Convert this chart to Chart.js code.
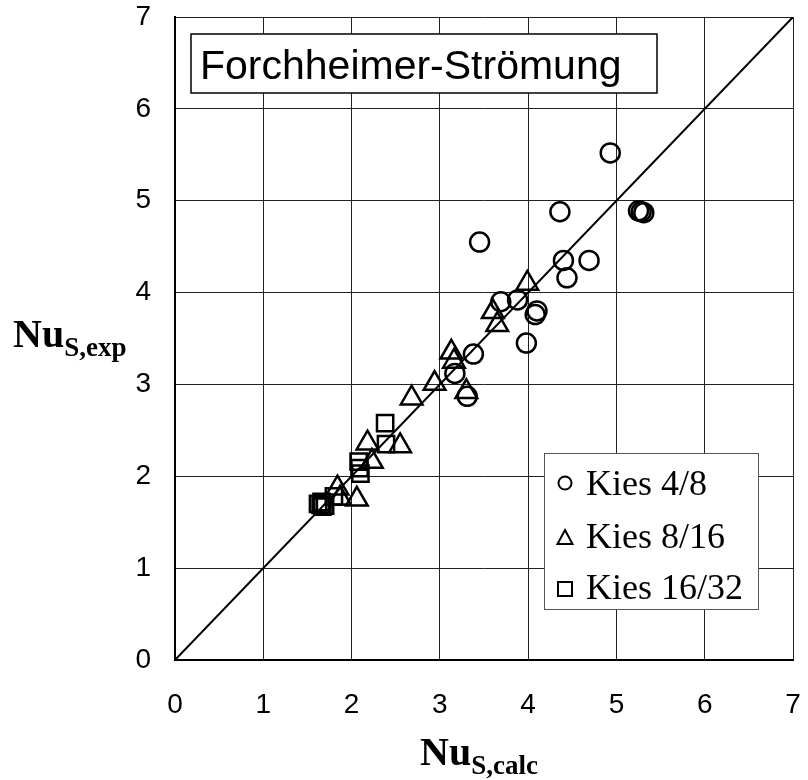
<!DOCTYPE html>
<html>
<head>
<meta charset="utf-8">
<script src="https://cdn.jsdelivr.net/npm/chart.js@4.4.1/dist/chart.umd.min.js"></script>
<style>
  html, body { margin: 0; padding: 0; background: #fff; }
  canvas { display: block; }
</style>
</head>
<body>
<canvas id="chart" width="808" height="780"></canvas>
<script>
const kies48X = [4.93, 4.36, 5.25, 5.28, 5.31, 3.45, 4.40, 4.69, 4.44, 4.10, 4.08, 3.69, 3.88, 3.98, 3.38, 3.17, 3.31];
const kies48Y = [5.52, 4.88, 4.89, 4.88, 4.87, 4.55, 4.35, 4.35, 4.16, 3.80, 3.76, 3.90, 3.92, 3.45, 3.33, 3.12, 2.87];

const kies816X = [3.99, 3.60, 3.65, 3.13, 3.16, 3.30, 2.94, 2.68, 2.18, 2.55, 2.23, 1.84, 1.87, 2.06];
const kies816Y = [4.10, 3.79, 3.65, 3.35, 3.25, 2.92, 3.01, 2.85, 2.36, 2.33, 2.16, 1.87, 1.76, 1.75];

const kies1632X = [2.38, 2.39, 2.08, 2.09, 2.10, 1.80, 1.65, 1.67, 1.62, 1.70, 1.66];
const kies1632Y = [2.58, 2.35, 2.16, 2.09, 2.03, 1.78, 1.69, 1.67, 1.70, 1.68, 1.72];

const lineX = [0, 7];
const lineY = [0, 7];

const tickValues = [0, 1, 2, 3, 4, 5, 6, 7];
const legendLabels = ["Kies 4/8", "Kies 8/16", "Kies 16/32"];
const titleText = "Forchheimer-Strömung";

const toPoints = (xs, ys) => xs.map((x, i) => ({ x: x, y: ys[i] }));

// Titelkasten, Legende und Achsentitel (mit Index) selbst zeichnen
const extras = {
  id: "extras",
  afterDraw(chart) {
    const ctx = chart.ctx;
    ctx.save();

    // Titelkasten
    ctx.fillStyle = "#fff";
    ctx.fillRect(191, 34, 466, 59);
    ctx.strokeStyle = "#000";
    ctx.lineWidth = 1.5;
    ctx.strokeRect(191, 34, 466, 59);
    ctx.fillStyle = "#000";
    ctx.font = "41px 'Liberation Sans', Arial, sans-serif";
    ctx.textBaseline = "alphabetic";
    ctx.textAlign = "left";
    ctx.fillText(titleText, 200, 79);

    // Legende
    ctx.fillStyle = "#fff";
    ctx.fillRect(544, 453, 214, 156);
    ctx.strokeStyle = "#555";
    ctx.lineWidth = 1;
    ctx.strokeRect(544.5, 453.5, 214, 156);

    ctx.strokeStyle = "#000";
    ctx.lineWidth = 2;
    ctx.beginPath();
    ctx.arc(565, 483, 6.5, 0, Math.PI * 2);
    ctx.stroke();

    ctx.beginPath();
    ctx.moveTo(565, 530);
    ctx.lineTo(572.5, 544);
    ctx.lineTo(557.5, 544);
    ctx.closePath();
    ctx.stroke();

    ctx.strokeRect(558, 582, 14, 14);

    ctx.fillStyle = "#000";
    ctx.font = "36px 'Liberation Serif', 'Times New Roman', serif";
    const rows = [495, 548, 599];
    legendLabels.forEach((t, i) => ctx.fillText(t, 586, rows[i]));

    // Achsentitel
    const drawSub = (main, sub, x, y) => {
      ctx.font = "bold 40px 'Liberation Serif', 'Times New Roman', serif";
      ctx.fillText(main, x, y);
      const w = ctx.measureText(main).width;
      ctx.font = "bold 27px 'Liberation Serif', 'Times New Roman', serif";
      ctx.fillText(sub, x + w, y + 9);
    };
    drawSub("Nu", "S,calc", 420, 765);
    drawSub("Nu", "S,exp", 13, 347);

    ctx.restore();
  }
};

const baseScale = {
  type: "linear",
  min: 0,
  max: 7,
  afterBuildTicks(scale) {
    scale.ticks = tickValues.map(v => ({ value: v }));
  },
  grid: { color: "#222", lineWidth: 1, drawTicks: false },
  border: { color: "#000", width: 2 },
  ticks: {
    color: "#000",
    font: { family: "'Liberation Sans', Arial, sans-serif", size: 28 }
  }
};

new Chart(document.getElementById("chart"), {
  type: "scatter",
  data: {
    datasets: [
      {
        label: legendLabels[0],
        data: toPoints(kies48X, kies48Y),
        pointStyle: "circle",
        pointRadius: 9.5,
        pointBorderWidth: 2.5,
        pointBorderColor: "#000",
        pointBackgroundColor: "rgba(0,0,0,0)"
      },
      {
        label: legendLabels[1],
        data: toPoints(kies816X, kies816Y),
        pointStyle: "triangle",
        pointRadius: 12.5,
        pointBorderWidth: 2.5,
        pointBorderColor: "#000",
        pointBackgroundColor: "rgba(0,0,0,0)"
      },
      {
        label: legendLabels[2],
        data: toPoints(kies1632X, kies1632Y),
        pointStyle: "rect",
        pointRadius: 11.5,
        pointBorderWidth: 2.5,
        pointBorderColor: "#000",
        pointBackgroundColor: "rgba(0,0,0,0)"
      },
      {
        label: "1:1",
        data: toPoints(lineX, lineY),
        showLine: true,
        borderColor: "#000",
        borderWidth: 2,
        pointRadius: 0
      }
    ]
  },
  options: {
    responsive: false,
    animation: false,
    layout: { padding: { top: 17, right: 11, left: 0, bottom: 0 } },
    plugins: {
      legend: { display: false },
      tooltip: { enabled: false }
    },
    scales: {
      x: Object.assign({}, baseScale, {
        position: "bottom",
        ticks: Object.assign({}, baseScale.ticks, { padding: 28, maxRotation: 0 }),
        afterFit(scale) {
          scale.height = 120;
          scale.paddingLeft = 0;
          scale.paddingRight = 0;
        }
      }),
      y: Object.assign({}, baseScale, {
        position: "left",
        ticks: Object.assign({}, baseScale.ticks, { padding: 24 }),
        afterFit(scale) {
          scale.width = 175;
          scale.paddingTop = 0;
          scale.paddingBottom = 0;
        }
      })
    }
  },
  plugins: [extras]
});
</script>
</body>
</html>
